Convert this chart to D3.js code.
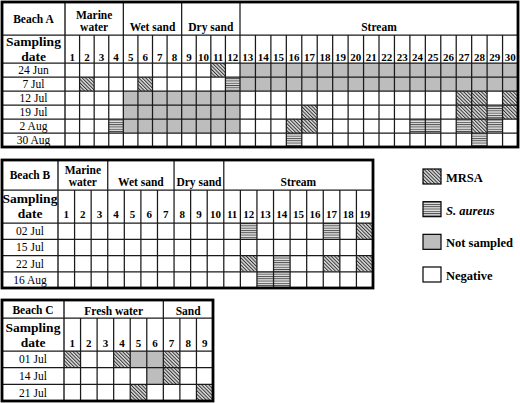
<!DOCTYPE html>
<html>
<head>
<meta charset="utf-8">
<script src="https://cdn.jsdelivr.net/npm/d3@7"></script>
<style>
  body { margin: 0; background: #fff; }
  svg { display: block; font-family: "Liberation Serif", "Times New Roman", serif; }
</style>
</head>
<body>
<svg id="chart" width="520" height="403"></svg>
<script>
// results per sampling date, one char per site: M = MRSA, S = S. aureus, N = not sampled, - = negative
const beachADates = ["24 Jun", "7 Jul", "12 Jul", "19 Jul", "2 Aug", "30 Aug"];
const beachAGroups = ["Marine water", "Wet sand", "Dry sand", "Stream"];
const beachAGroupSizes = [4, 4, 4, 18];
const beachARows = [
  "----------M-NNNNNNNNNNNNNNNNNN",
  "-M---M-----SNNNNNNNNNNNNNNNNNN",
  "----NNNNNNNN--------------MM-M",
  "----NNNNNNNN----M---------MMSM",
  "---SNNNNNNNN---MM------SS-SMS-",
  "---------------S-----------S--"
];

const beachBDates = ["02 Jul", "15 Jul", "22 Jul", "16 Aug"];
const beachBGroups = ["Marine water", "Wet sand", "Dry sand", "Stream"];
const beachBGroupSizes = [3, 4, 3, 9];
const beachBRows = [
  "-----------S----S-M",
  "-------------------",
  "-----------M-S--M-M",
  "------------SS-----"
];

const beachCDates = ["01 Jul", "14 Jul", "21 Jul"];
const beachCGroups = ["Fresh water", "Sand"];
const beachCGroupSizes = [6, 3];
const beachCRows = [
  "M--MNNM--",
  "-----NM--",
  "----M---M"
];

const legendCodes = ["M", "S", "N", "-"];
const legendLabels = ["MRSA", "S. aureus", "Not sampled", "Negative"];

const svg = d3.select("#chart");

// fill patterns
const defs = svg.append("defs");
const mrsa = defs.append("pattern")
    .attr("id", "mrsa")
    .attr("patternUnits", "userSpaceOnUse")
    .attr("width", 2.5).attr("height", 2.5)
    .attr("patternTransform", "rotate(-45)");
mrsa.append("rect").attr("width", 2.5).attr("height", 2.5).attr("fill", "#dcdcdc");
mrsa.append("rect").attr("width", 1).attr("height", 2.5).attr("fill", "#333");

const saur = defs.append("pattern")
    .attr("id", "saur")
    .attr("patternUnits", "userSpaceOnUse")
    .attr("width", 4).attr("height", 2.3);
saur.append("rect").attr("width", 4).attr("height", 2.3).attr("fill", "#e0e0e0");
saur.append("rect").attr("width", 4).attr("height", 0.9).attr("fill", "#4a4a4a");

const fillFor = {
  "M": "url(#mrsa)",
  "S": "url(#saur)",
  "N": "#bdbdbd",
  "-": "#fff"
};

const lineCol = "#1a1a1a";

function drawTable(t) {
  const g = svg.append("g");
  const nCols = t.rows[0].length;
  const x = d3.scaleLinear().domain(t.colDomain).range(t.colRange);
  const y = d3.scaleLinear().domain([0, t.dates.length]).range([t.h2, t.bottom]);
  const right = t.colRange[t.colRange.length - 1];

  // cells
  const cells = [];
  t.rows.forEach((r, i) => r.split("").forEach((c, j) => cells.push({ i, j, c })));
  g.selectAll("rect.cell").data(cells).enter().append("rect")
      .attr("class", "cell")
      .attr("x", d => x(d.j))
      .attr("y", d => y(d.i))
      .attr("width", d => x(d.j + 1) - x(d.j))
      .attr("height", d => y(d.i + 1) - y(d.i))
      .attr("fill", d => fillFor[d.c]);

  // column lines, group borders run up through the header
  const bounds = Array.from(d3.cumsum(t.groupSizes));
  const colIdx = d3.range(1, nCols);
  g.selectAll("line.col").data(colIdx).enter().append("line")
      .attr("x1", d => x(d)).attr("x2", d => x(d))
      .attr("y1", d => bounds.includes(d) ? t.top : t.h1)
      .attr("y2", t.bottom)
      .attr("stroke", lineCol).attr("stroke-width", 1.25);

  g.append("line")
      .attr("x1", x(0)).attr("x2", x(0))
      .attr("y1", t.top).attr("y2", t.bottom)
      .attr("stroke", lineCol).attr("stroke-width", 1.4);

  // row lines
  const hs = [t.h1, t.h2].concat(d3.range(1, t.dates.length).map(i => y(i)));
  g.selectAll("line.row").data(hs).enter().append("line")
      .attr("x1", t.left).attr("x2", right)
      .attr("y1", d => d).attr("y2", d => d)
      .attr("stroke", lineCol).attr("stroke-width", 1.25);

  // outer border
  g.append("rect")
      .attr("x", t.left).attr("y", t.top)
      .attr("width", right - t.left).attr("height", t.bottom - t.top)
      .attr("fill", "none").attr("stroke", "#000").attr("stroke-width", 2.8);

  const labelX = (t.left + x(0)) / 2;

  g.append("text")
      .attr("x", labelX).attr("y", t.titleBase)
      .attr("text-anchor", "middle").attr("font-weight", "bold").attr("font-size", 11.5)
      .text(t.title);

  g.append("text")
      .attr("x", labelX).attr("y", t.numBase - 15)
      .attr("text-anchor", "middle").attr("font-weight", "bold").attr("font-size", 13.5)
      .text("Sampling");
  g.append("text")
      .attr("x", labelX).attr("y", t.numBase)
      .attr("text-anchor", "middle").attr("font-weight", "bold").attr("font-size", 13.5)
      .text("date");

  // group names
  const starts = [0].concat(bounds.slice(0, -1));
  t.groups.forEach((name, k) => {
    const cx = (x(starts[k]) + x(bounds[k])) / 2;
    const words = t.wrap.includes(name) ? name.split(" ") : [name];
    words.forEach((w, wi) => {
      g.append("text")
          .attr("x", cx)
          .attr("y", t.groupBase - (words.length - 1 - wi) * 12)
          .attr("text-anchor", "middle").attr("font-weight", "bold").attr("font-size", 11.5)
          .text(w);
    });
  });

  // column numbers
  g.selectAll("text.num").data(d3.range(nCols)).enter().append("text")
      .attr("x", d => (x(d) + x(d + 1)) / 2)
      .attr("y", t.numBase)
      .attr("text-anchor", "middle").attr("font-weight", "bold").attr("font-size", 11)
      .text(d => d + 1);

  // dates
  g.selectAll("text.date").data(t.dates).enter().append("text")
      .attr("x", labelX)
      .attr("y", (d, i) => (y(i) + y(i + 1)) / 2 + 4)
      .attr("text-anchor", "middle").attr("font-size", 11.5)
      .text(d => d);
}

drawTable({
  title: "Beach A", dates: beachADates, groups: beachAGroups, groupSizes: beachAGroupSizes,
  rows: beachARows, wrap: ["Marine water"],
  left: 2, top: 2, h1: 35, h2: 63, bottom: 147,
  colDomain: [0, 12, 30], colRange: [65, 240, 518],
  titleBase: 23, groupBase: 31, numBase: 61
});

drawTable({
  title: "Beach B", dates: beachBDates, groups: beachBGroups, groupSizes: beachBGroupSizes,
  rows: beachBRows, wrap: ["Marine water"],
  left: 2, top: 160, h1: 190, h2: 223, bottom: 288,
  colDomain: [0, 19], colRange: [58, 373],
  titleBase: 179, groupBase: 186, numBase: 218
});

drawTable({
  title: "Beach C", dates: beachCDates, groups: beachCGroups, groupSizes: beachCGroupSizes,
  rows: beachCRows, wrap: [],
  left: 2, top: 300, h1: 318, h2: 351, bottom: 401,
  colDomain: [0, 9], colRange: [64, 213],
  titleBase: 314, groupBase: 315, numBase: 347
});

// legend
const ly = d3.scalePoint().domain(legendCodes).range([169, 267]);
const legend = svg.append("g").selectAll("g").data(legendCodes).enter().append("g")
    .attr("transform", d => `translate(423,${ly(d)})`);
legend.append("rect")
    .attr("width", 18).attr("height", 15)
    .attr("fill", d => fillFor[d])
    .attr("stroke", "#000").attr("stroke-width", 1.2);
legend.append("text")
    .attr("x", 23).attr("y", 13)
    .attr("font-weight", "bold").attr("font-size", 12.5)
    .attr("font-style", d => d === "S" ? "italic" : "normal")
    .text((d, i) => legendLabels[i]);
</script>
</body>
</html>
